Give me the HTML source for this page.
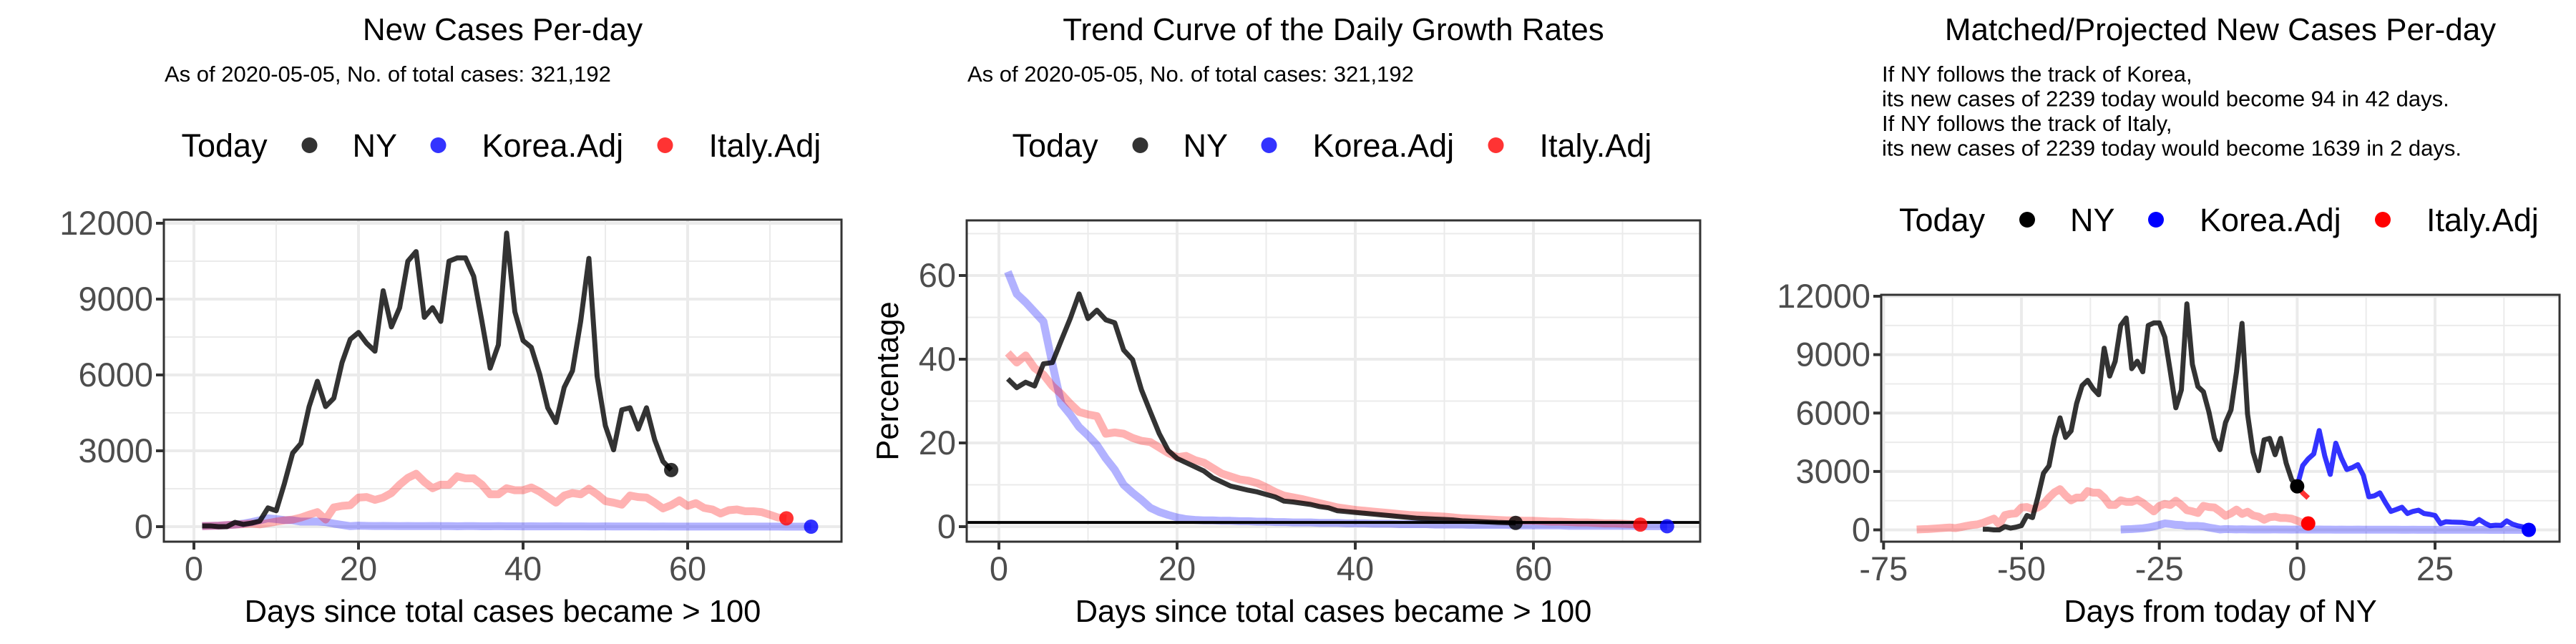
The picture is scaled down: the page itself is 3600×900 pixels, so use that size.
<!DOCTYPE html>
<html><head><meta charset="utf-8"><style>
html,body{margin:0;padding:0;background:#fff;}
svg{display:block;font-family:"Liberation Sans",Arial,sans-serif;}
</style></head><body>
<svg id="chart" width="3600" height="900" viewBox="0 0 3600 900" xmlns="http://www.w3.org/2000/svg">
<rect x="0" y="0" width="3600" height="900" fill="#fff"/>
</svg>
<script>
// ---- data ----
const nyCases = [30,30,0,0,170,90,140,220,740,630,1710,2910,3290,4750,5750,4750,5080,6490,7410,7680,7250,6940,9330,7900,8660,10500,10880,8280,8660,8120,10500,10630,10630,9900,8120,6270,7190,11610,8500,7360,7090,6050,4700,4120,5510,6160,8120,10610,5950,3990,3040,4620,4700,3860,4700,3430,2580,2239];
const italyCases = [20,30,40,60,80,100,120,90,140,200,250,280,360,470,575,280,760,820,850,1150,1170,1060,1150,1330,1660,1930,2090,1770,1520,1660,1660,1990,1910,1910,1660,1280,1280,1520,1440,1440,1550,1390,1170,950,1230,1330,1280,1500,1280,1010,950,870,1230,1170,1150,950,720,850,1040,820,930,740,680,520,650,680,610,610,575,470,360,330];
const koreaCases = [20,30,40,60,80,120,180,250,330,300,260,250,200,200,200,180,120,70,20,40,30,25,30,25,20,25,20,20,25,20,20,15,20,20,15,15,20,15,15,10,15,10,10,15,10,10,10,8,8,10,8,6,6,8,6,5,6,5,4,5,4,4,3,4,3,3,3,2,2,2,2,1,1,1,0];
const nyGrowth = [35.3,33.2,34.5,33.6,38.9,39.2,44.5,49.7,55.6,49.7,51.7,49.4,48.7,42.2,39.9,32.7,27.4,22.2,18.2,16.3,15.3,14.3,13.3,11.7,10.7,9.7,9.2,8.7,8.3,7.7,7.1,6.1,5.9,5.6,5.3,4.8,4.5,3.8,3.6,3.4,3.2,3.0,2.8,2.6,2.4,2.2,2.0,1.9,1.8,1.7,1.6,1.4,1.3,1.2,1.1,1.0,0.95,0.9];
const italyGrowth = [41.5,39.2,40.9,37.9,36.3,33.6,31.7,29.4,27.4,26.8,26.4,22.2,22.5,22.2,21.2,20.5,20.2,18.9,17.6,16.6,16.9,15.9,15.3,14,12.7,12,11.3,11,10.4,9.4,8.3,7.4,7,6.6,6.1,5.6,5.1,4.6,4.3,4.0,3.8,3.6,3.4,3.2,3.0,2.8,2.7,2.6,2.5,2.4,2.2,2.0,1.9,1.8,1.7,1.6,1.5,1.5,1.4,1.4,1.3,1.2,1.2,1.1,1.0,1.0,0.9,0.8,0.8,0.7,0.6,0.5];
const koreaGrowth = [60.9,55.6,53.6,51.3,49,38.9,29.4,26.8,23.8,21.8,19.5,16.3,13.6,10,8.1,6.4,4.5,3.5,2.8,2.2,1.8,1.6,1.5,1.5,1.4,1.4,1.3,1.3,1.2,1.2,1.1,1.1,1.0,1.0,1.0,0.9,0.9,0.9,0.8,0.8,0.8,0.7,0.7,0.7,0.6,0.6,0.6,0.6,0.5,0.5,0.5,0.5,0.4,0.4,0.4,0.4,0.4,0.3,0.3,0.3,0.3,0.3,0.3,0.2,0.2,0.2,0.2,0.2,0.2,0.2,0.2,0.1,0.1,0.1,0.1];
const koreaProjection = [2239,3300,3650,3900,5100,3800,2850,4450,3700,3100,3200,3350,2800,1700,1750,1900,1400,950,1050,1160,840,950,1010,840,800,740,320,420,400,390,380,340,316,530,350,210,240,230,460,300,210,150,94];
const italyProjection = [2239,1900,1639];
const nyShift = 58, koreaShift = 33, italyShift = 70;
const casesTicks = [0,3000,6000,9000,12000];
const growthTicks = [0,20,40,60];
const dayTicks = [0,20,40,60];
const matchTicks = [-75,-50,-25,0,25];
const legendLabels = ["NY","Korea.Adj","Italy.Adj"];

// ---- helpers ----
const svg = document.getElementById('chart');
const NS = 'http://www.w3.org/2000/svg';
function mk(tag, attrs, parent){
  const e = document.createElementNS(NS, tag);
  for (const k in attrs) e.setAttribute(k, attrs[k]);
  (parent||svg).appendChild(e);
  return e;
}
function txt(str, attrs, parent){ const t = mk('text', attrs, parent); t.textContent = str; return t; }
function lin(d0,d1,p0,p1){ return v => p0 + (v-d0)*(p1-p0)/(d1-d0); }

function panel(cfg){
  const g = mk('g', {});
  
  
  const X = cfg.X, Y = cfg.Y, L=cfg.L, R=cfg.R, T=cfg.T, B=cfg.B;
  cfg.xMinor.forEach(v=>{ const l=mk('line',{x1:X(v),x2:X(v),y1:T,y2:B,stroke:'#ebebeb','stroke-width':2},g);   });
  cfg.yMinor.forEach(v=>{ const l=mk('line',{x1:L,x2:R,y1:Y(v),y2:Y(v),stroke:'#ebebeb','stroke-width':2},g);   });
  cfg.xTicks.forEach(v=>{ const l=mk('line',{x1:X(v),x2:X(v),y1:T,y2:B,stroke:'#ebebeb','stroke-width':4},g);   });
  cfg.yTicks.forEach(v=>{ const l=mk('line',{x1:L,x2:R,y1:Y(v),y2:Y(v),stroke:'#ebebeb','stroke-width':4},g);   });
  cfg.xTicks.forEach(v=>{
    const tk=mk('line',{x1:X(v),x2:X(v),y1:B,y2:B+11,stroke:'#333','stroke-width':4},g);
     
    const t=txt(String(v),{x:X(v),y:811,'text-anchor':'middle','font-size':47,fill:'#4d4d4d'},g);
     
  });
  cfg.yTicks.forEach(v=>{
    const tk=mk('line',{x1:L-11,x2:L,y1:Y(v),y2:Y(v),stroke:'#333','stroke-width':4},g);
     
    const t=txt(String(v),{x:L-15,y:Y(v)+16,'text-anchor':'end','font-size':47,fill:'#4d4d4d'},g);
     
  });
  cfg.series.forEach(s=>{
    const pts = s.values.map((v,i)=> X(i + s.start) + ',' + Y(v)).join(' ');
    const p = mk('polyline',{points:pts,fill:'none',stroke:s.color,'stroke-width':s.w,'stroke-linejoin':'round','stroke-linecap':'butt'},g);
    
    
  });
  cfg.extra && cfg.extra(g);
  cfg.points.forEach(pt=>{
    const c = mk('circle',{cx:X(pt.x),cy:Y(pt.y),r:10,fill:pt.color},g);
    
    
  });
  const box = mk('rect',{x:L,y:T,width:R-L,height:B-T,fill:'none',stroke:'#333','stroke-width':3},g);
   
  const cx = (L+R)/2;
  const ttl = txt(cfg.title,{x:cx,y:56,'text-anchor':'middle','font-size':44,fill:'#000'},g);
   
  cfg.sub.forEach((s,i)=>{
    const st = txt(s,{x:L+1,y:cfg.subY + i*34.5,'font-size':31,fill:'#000'},g);
     
  });
  const xl = txt(cfg.xlab,{x:cx,y:869,'text-anchor':'middle','font-size':43.5,fill:'#000'},g);
   
  if (cfg.ylab){
    const yl = txt(cfg.ylab,{x:0,y:0,'text-anchor':'middle','font-size':43.5,fill:'#000',transform:'translate('+cfg.ylabX+','+((T+B)/2)+') rotate(-90)'},g);
     
  }
  const lg = mk('g',{},g);
  
  
  const ly = cfg.legY;
  const lt = txt('Today',{x:cx-449,y:ly+16,'font-size':45,fill:'#000'},lg);
   
  const dotX=[-270,-90,227], txX=[-210,-29,288];
  legendLabels.forEach((lab,i)=>{
    const d = mk('circle',{cx:cx+dotX[i],cy:ly,r:11,fill:cfg.legColors[i]},lg);
    
    
    const t = txt(lab,{x:cx+txX[i],y:ly+16,'font-size':45,fill:'#000'},lg);
    
    
  });
}

const NYc='rgba(0,0,0,0.8)', KOl='rgba(0,0,255,0.3)', ITl='rgba(255,0,0,0.3)';
const sub1 = ['As of 2020-05-05, No. of total cases: 321,192'];

(function(){
  const L=229,R=1176,T=307,B=757;
  const X=lin(0,60,271,961), Y=lin(0,12000,736,312);
  panel({name:'new-cases-panel',L,R,T,B,X,Y,xTicks:dayTicks,yTicks:casesTicks,
    xMinor:[10,30,50,70],yMinor:[1500,4500,7500,10500],
    series:[
      {name:'korea-cases-line',values:koreaCases,start:1,color:KOl,w:11},
      {name:'italy-cases-line',values:italyCases,start:1,color:ITl,w:11},
      {name:'ny-cases-line',values:nyCases,start:1,color:NYc,w:7}],
    points:[
      {name:'ny-today-point',x:nyCases.length,y:nyCases[nyCases.length-1],color:'rgba(0,0,0,0.8)'},
      {name:'italy-today-point',x:italyCases.length,y:italyCases[italyCases.length-1],color:'rgba(255,0,0,0.8)'},
      {name:'korea-today-point',x:koreaCases.length,y:koreaCases[koreaCases.length-1],color:'rgba(0,0,255,0.8)'}],
    title:'New Cases Per-day',sub:sub1,subY:114,xlab:'Days since total cases became > 100',
    legY:203,legColors:['rgba(0,0,0,0.8)','rgba(0,0,255,0.8)','rgba(255,0,0,0.8)']});
})();

(function(){
  const L=1351,R=2376,T=308,B=757;
  const X=lin(0,60,1396,2143), Y=lin(0,60,736,385);
  panel({name:'growth-rate-panel',L,R,T,B,X,Y,xTicks:dayTicks,yTicks:growthTicks,
    xMinor:[10,30,50,70],yMinor:[10,30,50,70],
    series:[
      {name:'korea-growth-line',values:koreaGrowth,start:1,color:KOl,w:11},
      {name:'italy-growth-line',values:italyGrowth,start:1,color:ITl,w:11},
      {name:'ny-growth-line',values:nyGrowth,start:1,color:NYc,w:7}],
    extra:function(g){
      const h=mk('line',{x1:L,x2:R,y1:Y(1),y2:Y(1),stroke:'#000','stroke-width':4},g);
       
    },
    points:[
      {name:'ny-today-point',x:nyGrowth.length,y:nyGrowth[nyGrowth.length-1],color:'rgba(0,0,0,0.8)'},
      {name:'italy-today-point',x:italyGrowth.length,y:italyGrowth[italyGrowth.length-1],color:'rgba(255,0,0,0.8)'},
      {name:'korea-today-point',x:koreaGrowth.length,y:koreaGrowth[koreaGrowth.length-1],color:'rgba(0,0,255,0.8)'}],
    title:'Trend Curve of the Daily Growth Rates',sub:sub1,subY:114,xlab:'Days since total cases became > 100',
    ylab:'Percentage',ylabX:1255,
    legY:203,legColors:['rgba(0,0,0,0.8)','rgba(0,0,255,0.8)','rgba(255,0,0,0.8)']});
})();

(function(){
  const L=2629,R=3577,T=412,B=757;
  const X=lin(-50,25,2825,3403), Y=lin(0,12000,740.5,414);
  panel({name:'matched-projection-panel',L,R,T,B,X,Y,xTicks:matchTicks,yTicks:casesTicks,
    xMinor:[-62.5,-37.5,-12.5,12.5,37.5],yMinor:[1500,4500,7500,10500],
    series:[
      {name:'korea-matched-line',values:koreaCases,start:1-koreaShift,color:KOl,w:11},
      {name:'italy-matched-line',values:italyCases,start:1-italyShift,color:ITl,w:11},
      {name:'ny-matched-line',values:nyCases,start:1-nyShift,color:NYc,w:7},
      {name:'korea-projection-line',values:koreaProjection,start:0,color:'rgba(0,0,255,0.8)',w:7},
      {name:'italy-projection-line',values:italyProjection,start:0,color:'rgba(255,0,0,0.8)',w:7}],
    points:[
      {name:'ny-today-point',x:0,y:nyCases[nyCases.length-1],color:'#000'},
      {name:'italy-today-point',x:italyCases.length-italyShift,y:italyCases[italyCases.length-1],color:'#f00'},
      {name:'korea-today-point',x:koreaCases.length-koreaShift,y:koreaCases[koreaCases.length-1],color:'#00f'}],
    title:'Matched/Projected New Cases Per-day',
    sub:['If NY follows the track of Korea,','its new cases of 2239 today would become 94 in 42 days.','If NY follows the track of Italy,','its new cases of 2239 today would become 1639 in 2 days.'],
    subY:114,xlab:'Days from today of NY',
    legY:307,legColors:['#000','#00f','#f00']});
})();
</script>
</body></html>
